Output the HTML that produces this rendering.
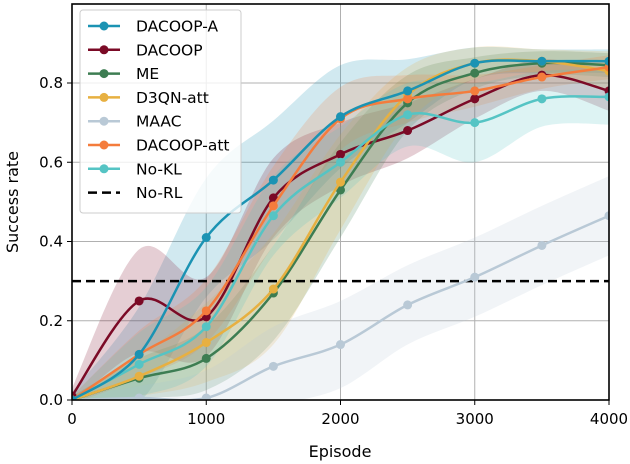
<!DOCTYPE html>
<html><head><meta charset="utf-8"><style>
body{margin:0;background:#fff;}
svg{display:block;font-family:"DejaVu Sans","Liberation Sans",sans-serif;}
</style></head><body>
<svg id="chart" width="630" height="464">
<defs><clipPath id="pc"><rect x="72" y="4" width="537" height="396"/></clipPath></defs>
<g id="grid"></g>
<g id="bands" clip-path="url(#pc)"></g>
<g id="lines" clip-path="url(#pc)"></g>
<rect x="72" y="4" width="537" height="396" fill="none" stroke="#000" stroke-width="1.6"/>
<g id="axes"></g>
<text x="340" y="457" font-size="16" text-anchor="middle">Episode</text>
<text transform="translate(18,202) rotate(-90)" font-size="16" text-anchor="middle">Success rate</text>
<g id="legend"></g>
</svg>
<script>
const episodes=[0,500,1000,1500,2000,2500,3000,3500,4000];
const xTicks=[0,1000,2000,3000,4000];
const yTicks=[0,0.2,0.4,0.6,0.8];
const yTickLabels=["0.0","0.2","0.4","0.6","0.8"];
const seriesNames=["DACOOP-A","DACOOP","ME","D3QN-att","MAAC","DACOOP-att","No-KL"];
const seriesColors=["#1b93b3","#7b0a26","#3d7d52","#e7b041","#b9c9d6","#f47c3c","#55c4c4"];
const dacoopA=[0,0.115,0.41,0.555,0.715,0.78,0.85,0.855,0.855];
const dacoop=[0.01,0.25,0.21,0.51,0.62,0.68,0.76,0.82,0.78];
const me=[0,0.055,0.105,0.27,0.53,0.75,0.825,0.85,0.845];
const d3qn=[0,0.06,0.145,0.28,0.55,0.77,0.85,0.855,0.83];
const maac=[0,0.005,0.005,0.085,0.14,0.24,0.31,0.39,0.465];
const dacoopAtt=[0,0.115,0.225,0.49,0.71,0.76,0.78,0.815,0.84];
const noKL=[0,0.09,0.185,0.465,0.60,0.72,0.70,0.76,0.765];
const dacoopABand=[0.02,0.12,0.15,0.15,0.13,0.08,0.04,0.03,0.03];
const dacoopBand=[0.02,0.13,0.1,0.1,0.08,0.07,0.05,0.04,0.05];
const meBand=[0.01,0.05,0.08,0.12,0.12,0.07,0.04,0.03,0.03];
const d3qnBand=[0.01,0.05,0.1,0.14,0.12,0.07,0.04,0.03,0.05];
const maacBand=[0.01,0.03,0.07,0.1,0.11,0.1,0.1,0.1,0.1];
const dacoopAttBand=[0.01,0.06,0.08,0.1,0.08,0.06,0.04,0.03,0.03];
const noKLBand=[0.01,0.08,0.1,0.1,0.09,0.08,0.1,0.07,0.07];
const seriesData=[dacoopA,dacoop,me,d3qn,maac,dacoopAtt,noKL];
const seriesBands=[dacoopABand,dacoopBand,meBand,d3qnBand,maacBand,dacoopAttBand,noKLBand];
const noRL=0.3;

const NS="http://www.w3.org/2000/svg";
const X=v=>72+v/4000*537;
const Y=v=>400-v/0.8*317;
function mk(tag,attrs,parent){const e=document.createElementNS(NS,tag);for(const k in attrs)e.setAttribute(k,attrs[k]);parent.appendChild(e);return e;}
function smooth(pts){let d=`M${pts[0][0]},${pts[0][1]}`;for(let i=0;i<pts.length-1;i++){const p0=pts[Math.max(0,i-1)],p1=pts[i],p2=pts[i+1],p3=pts[Math.min(pts.length-1,i+2)];const c1=[p1[0]+(p2[0]-p0[0])/6,p1[1]+(p2[1]-p0[1])/6],c2=[p2[0]-(p3[0]-p1[0])/6,p2[1]-(p3[1]-p1[1])/6];d+=` C${c1[0]},${c1[1]} ${c2[0]},${c2[1]} ${p2[0]},${p2[1]}`;}return d;}
const grid=document.getElementById('grid'),axes=document.getElementById('axes');
xTicks.forEach(t=>{
const g=mk('line',{x1:X(t),x2:X(t),y1:4,y2:400,stroke:'#b0b0b0','stroke-width':1},grid);

mk('line',{x1:X(t),x2:X(t),y1:400,y2:405,stroke:'#000'},axes);
const l=mk('text',{x:X(t),y:424,'font-size':15,'text-anchor':'middle'},axes);l.textContent=t;
});
yTicks.forEach((t,i)=>{
const g=mk('line',{x1:72,x2:609,y1:Y(t),y2:Y(t),stroke:'#b0b0b0','stroke-width':1},grid);

mk('line',{x1:67,x2:72,y1:Y(t),y2:Y(t),stroke:'#000'},axes);
const l=mk('text',{x:63,y:Y(t)+5,'font-size':15,'text-anchor':'end'},axes);l.textContent=yTickLabels[i];
});
const bands=document.getElementById('bands'),lines=document.getElementById('lines');
seriesData.forEach((s,k)=>{
const up=s.map((v,i)=>[X(episodes[i]),Y(v+seriesBands[k][i])]);
const lo=s.map((v,i)=>[X(episodes[i]),Y(v-seriesBands[k][i])]).reverse();
const d=smooth(up)+' L'+smooth(lo).slice(1)+' Z';
const b=mk('path',{d:d,fill:seriesColors[k],'fill-opacity':0.2},bands);
});
const nr=mk('line',{x1:72,x2:609,y1:Y(noRL),y2:Y(noRL),stroke:'#000','stroke-width':2.5,'stroke-dasharray':'9,5'},lines);

[4,1,2,3,6,5,0].forEach(k=>{const s=seriesData[k];
const pts=s.map((v,i)=>[X(episodes[i]),Y(v)]);
const p=mk('path',{d:smooth(pts),fill:'none',stroke:seriesColors[k],'stroke-width':2.5},lines);

pts.forEach(q=>{const c=mk('circle',{cx:q[0],cy:q[1],r:4.5,fill:seriesColors[k]},lines);
});});
const lg=document.getElementById('legend');
mk('rect',{x:80,y:10,width:161,height:203,rx:3,fill:'#fff','fill-opacity':0.8,stroke:'#ccc'},lg);
const names=seriesNames.concat(['No-RL']);
names.forEach((n,i)=>{const y=26+i*23.8;
const e=mk('g',{},lg);
if(i<7){mk('line',{x1:88,x2:120,y1:y,y2:y,stroke:seriesColors[i],'stroke-width':2.5},e);mk('circle',{cx:104,cy:y,r:4.5,fill:seriesColors[i]},e);}
else mk('line',{x1:88,x2:120,y1:y,y2:y,stroke:'#000','stroke-width':2.5,'stroke-dasharray':'9,5'},e);
const t=mk('text',{x:136,y:y+5.5,'font-size':15.5},e);t.textContent=n;});
</script>
</body></html>
